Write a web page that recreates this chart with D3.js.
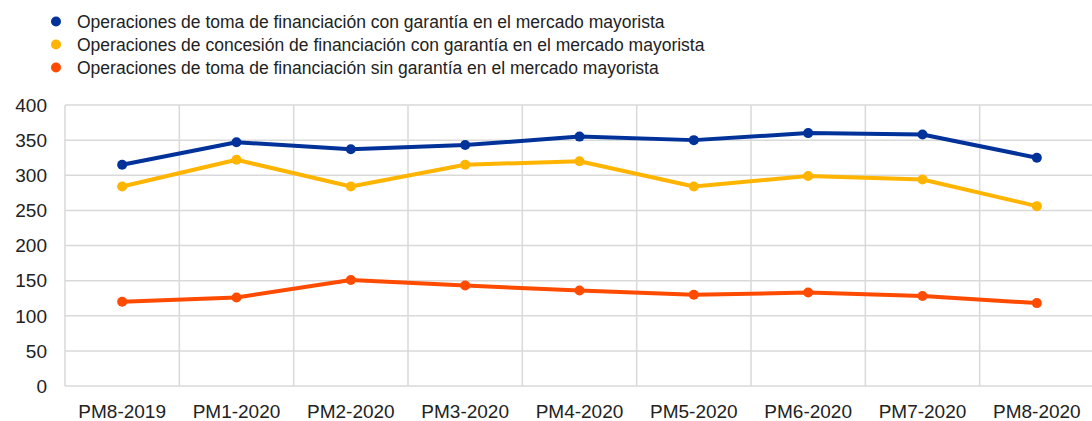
<!DOCTYPE html>
<html><head><meta charset="utf-8">
<script src="https://cdn.jsdelivr.net/npm/d3@7"></script>
<style>body{margin:0;background:#fff}svg{display:block}text{font-family:"Liberation Sans",Arial,sans-serif}</style>
</head><body>
<svg id="c" width="1092" height="421"></svg>
<script>
const categories = ["PM8-2019","PM1-2020","PM2-2020","PM3-2020","PM4-2020","PM5-2020","PM6-2020","PM7-2020","PM8-2020"];
const seriesNames = [
  "Operaciones de toma de financiación con garantía en el mercado mayorista",
  "Operaciones de concesión de financiación con garantía en el mercado mayorista",
  "Operaciones de toma de financiación sin garantía en el mercado mayorista"
];
const tomaConGarantia = [315, 347, 337, 343, 355, 350, 360, 358, 325];
const concesionConGarantia = [284, 322, 284, 315, 320, 284, 299, 294, 256];
const tomaSinGarantia = [120, 126, 151, 143, 136, 130, 133, 128, 118];
const yTicks = [0, 50, 100, 150, 200, 250, 300, 350, 400];
const colors = ["#003299", "#FFB400", "#FF4B00"];

const series = [tomaConGarantia, concesionConGarantia, tomaSinGarantia];
const svg = d3.select("#c");
const x = d3.scaleBand().domain(categories).range([65, 1094]);
const y = d3.scaleLinear().domain([0, 400]).range([386, 105]);

// grid
const g = svg.append("g");
g.selectAll("line.h").data(yTicks).join("line")
  .attr("x1", 65).attr("x2", 1092).attr("y1", d => y(d)).attr("y2", d => y(d))
  .attr("stroke", "#d9d9d9").attr("stroke-width", 1.5);
g.selectAll("line.v").data(categories).join("line")
  .attr("x1", d => x(d)).attr("x2", d => x(d)).attr("y1", y(400)).attr("y2", y(0))
  .attr("stroke", "#d9d9d9").attr("stroke-width", 1.5);

// y labels
svg.append("g").selectAll("text").data(yTicks).join("text")
  .attr("x", 47).attr("y", d => y(d)).attr("dy", "0.36em")
  .attr("text-anchor", "end").attr("font-size", 19).attr("fill", "#222")
  .text(d => d);
// x labels
svg.append("g").selectAll("text").data(categories).join("text")
  .attr("x", d => x(d) + x.bandwidth() / 2).attr("y", 418)
  .attr("text-anchor", "middle").attr("font-size", 19).attr("fill", "#222")
  .text(d => d);

// lines
const line = d3.line().x((d, i) => x(categories[i]) + x.bandwidth() / 2).y(d => y(d));
series.forEach((s, k) => {
  svg.append("path").datum(s).attr("d", line).attr("fill", "none")
    .attr("stroke", colors[k]).attr("stroke-width", 4).attr("stroke-linejoin", "round");
  svg.append("g").selectAll("circle").data(s).join("circle")
    .attr("cx", (d, i) => x(categories[i]) + x.bandwidth() / 2).attr("cy", d => y(d))
    .attr("r", 5).attr("fill", colors[k]);
});

// legend
const lg = svg.append("g");
seriesNames.forEach((n, i) => {
  const yy = 21.5 + i * 23;
  lg.append("circle").attr("cx", 56).attr("cy", yy).attr("r", 5).attr("fill", colors[i]);
  lg.append("text").attr("x", 77).attr("y", yy).attr("dy", "0.36em")
    .attr("font-size", 17.5).attr("fill", "#222").text(n);
});
</script>
</body></html>
